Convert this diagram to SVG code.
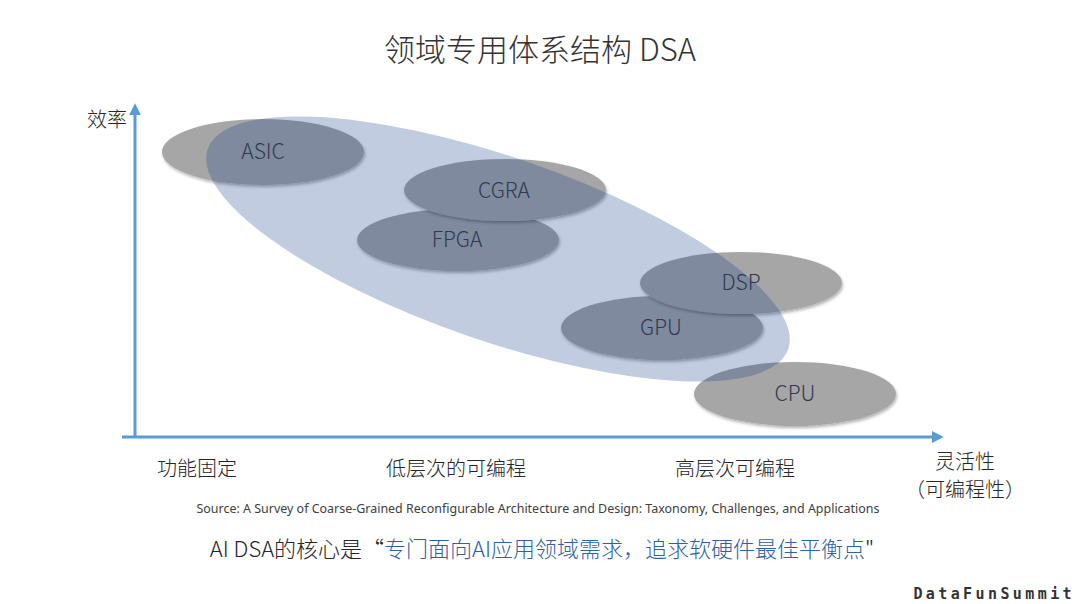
<svg xmlns="http://www.w3.org/2000/svg" width="1080" height="604" viewBox="0 0 1080 604">
<defs>
<style>
.cjk{font-family:"Noto Sans CJK SC","Noto Sans",sans-serif;}
.axis{stroke:#5b9bd5;stroke-width:3;fill:none;}
.node{fill:#a6a6a6;filter:url(#sh);}
.lbl{font-family:"Noto Sans CJK SC","Noto Sans",sans-serif;font-weight:300;font-size:21px;fill:#2e3a50;text-anchor:middle;}
.ax{font-family:"Noto Sans CJK SC",sans-serif;font-weight:300;font-size:20px;fill:#262626;text-anchor:middle;}
</style>
<filter id="sh" x="-20%" y="-30%" width="140%" height="170%">
<feDropShadow dx="1" dy="2" stdDeviation="1.5" flood-color="#000" flood-opacity="0.3"/>
</filter>
<marker id="ah" viewBox="0 0 10 10" refX="6" refY="5" markerWidth="4" markerHeight="4" orient="auto" markerUnits="strokeWidth">
<path d="M0,0 L10,5 L0,10 z" fill="#5b9bd5"/>
</marker>
</defs>
<rect width="1080" height="604" fill="#ffffff"/>
<text class="cjk" x="540" y="61" font-size="31" font-weight="300" fill="#333333" text-anchor="middle">领域专用体系结构 DSA</text>

<g id="axes">
<line class="axis" x1="135" y1="437" x2="135" y2="108" marker-end="url(#ah)"/>
<line class="axis" x1="122" y1="437" x2="939" y2="437" marker-end="url(#ah)"/>
</g>

<g id="node-asic"><ellipse class="node" cx="263" cy="152" rx="101" ry="33"/></g>
<g id="node-fpga"><ellipse class="node" cx="458" cy="240" rx="101" ry="31"/></g>
<g id="node-cgra"><ellipse class="node" cx="505" cy="190" rx="101" ry="31"/></g>
<g id="node-gpu"><ellipse class="node" cx="662" cy="328" rx="101" ry="32"/></g>
<g id="node-dsp"><ellipse class="node" cx="741" cy="283" rx="101" ry="31"/></g>
<g id="node-cpu"><ellipse class="node" cx="795" cy="394" rx="101" ry="32"/></g>

<g id="dsa-region">
<ellipse cx="0" cy="0" rx="307" ry="92" transform="translate(498 249) rotate(19)" fill="rgb(17,59,136)" fill-opacity="0.26"/>
</g>

<g id="labels">
<text class="lbl" x="263" y="159">ASIC</text>
<text class="lbl" x="504" y="198">CGRA</text>
<text class="lbl" x="457" y="247">FPGA</text>
<text class="lbl" x="741" y="290">DSP</text>
<text class="lbl" x="661" y="335">GPU</text>
<text class="lbl" x="795" y="401">CPU</text>
</g>

<g id="axis-labels">
<text class="ax" x="107" y="127">效率</text>
<text class="ax" x="197" y="476">功能固定</text>
<text class="ax" x="456" y="476">低层次的可编程</text>
<text class="ax" x="735" y="476">高层次可编程</text>
<text class="ax" x="965" y="469" font-size="18.5">灵活性</text>
<text class="ax" x="965" y="497" font-size="18.5">（可编程性）</text>
</g>

<text x="538" y="513" font-family="'Noto Sans',sans-serif" font-size="12" fill="#404040" text-anchor="middle" textLength="683" lengthAdjust="spacingAndGlyphs">Source: A Survey of Coarse-Grained Reconfigurable Architecture and Design: Taxonomy, Challenges, and Applications</text>

<text class="cjk" x="542" y="557" font-size="22" font-weight="300" fill="#262626" text-anchor="middle">AI DSA的核心是“<tspan fill="#2f5fa7">专门面向AI应用领域需求，追求软硬件最佳平衡点</tspan>"</text>

<text x="1075" y="599" font-family="'DejaVu Sans Mono',monospace" font-weight="bold" font-size="15" fill="#333333" text-anchor="end" letter-spacing="3.4">DataFunSummit</text>
</svg>
